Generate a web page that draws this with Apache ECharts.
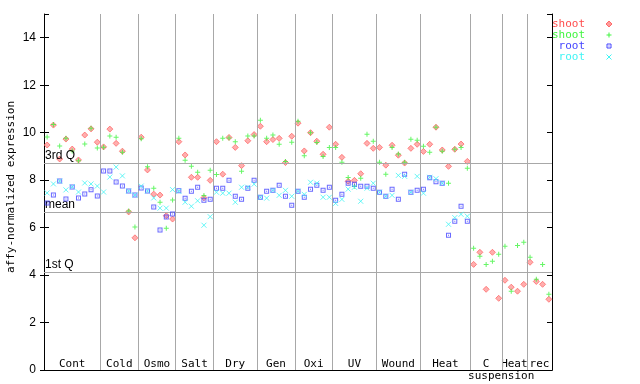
<!DOCTYPE html>
<html><head><meta charset="utf-8">
<script src="https://cdn.jsdelivr.net/npm/echarts@6/dist/echarts.min.js"></script>
<style>html,body{margin:0;padding:0;background:#fff}#c{width:640px;height:384px}</style>
</head><body><div id="c"></div>
<script>
// ---- data ----
const groupNames = ['Cont','Cold','Osmo','Salt','Dry','Gen','Oxi','UV','Wound','Heat','C','Heat','rec'];
const groupSubNames = ['','','','','','','','','','','suspension','',''];
const groupSizes = [9,6,6,6,7,6,6,7,7,8,5,4,4];
const seriesNames = ['shoot','shoot','root','root'];
const shootA = [
  9.48,10.32,8.89,9.73,9.31,8.85,9.90,10.16,9.60,
  9.40,10.15,9.55,9.22,6.66,5.57,
  9.81,8.43,7.41,7.37,6.50,6.36,
  9.62,9.06,8.12,8.12,7.26,7.99,
  9.62,8.25,9.80,9.38,8.61,9.66,9.92,
  10.27,9.62,9.71,9.76,8.74,9.85,
  10.40,9.23,10.00,9.64,9.09,10.23,
  9.51,8.96,7.95,7.99,8.27,9.55,9.34,
  9.38,8.63,9.47,9.05,8.72,9.34,9.51,
  9.21,9.51,10.23,9.27,8.58,9.30,9.52,8.79,
  4.45,4.96,3.40,4.96,3.02,
  3.78,3.49,3.32,3.61,
  4.54,3.73,3.61,2.98
];
const shootB = [
  9.82,10.34,9.44,9.77,9.23,8.82,9.52,10.19,9.35,
  9.39,9.86,9.81,9.18,6.70,6.03,
  9.74,8.56,7.66,7.07,5.97,7.16,
  9.76,8.84,8.58,8.33,7.35,8.42,
  8.24,9.76,9.78,9.62,8.37,9.86,9.86,
  10.52,9.76,9.90,9.51,8.79,9.60,
  10.48,9.03,10.00,9.59,9.00,9.38,
  9.38,8.75,8.11,7.74,8.08,9.93,9.64,
  8.75,8.25,9.38,9.10,8.75,9.72,9.68,
  9.43,9.17,10.23,9.22,7.87,9.30,9.38,8.50,
  5.13,4.79,4.45,4.58,4.88,
  5.21,3.32,5.25,5.38,
  4.75,3.82,4.45,3.19
];
const rootA = [
  7.04,7.37,7.96,7.21,7.71,7.25,7.42,7.59,7.33,
  8.39,8.39,7.92,7.75,7.54,7.37,
  7.67,7.54,6.87,5.90,6.45,6.57,
  7.55,7.24,7.53,7.70,7.15,7.19,
  7.66,7.66,7.99,7.32,7.19,7.66,7.99,
  7.28,7.53,7.57,7.78,7.32,6.94,
  7.53,7.28,7.62,7.78,7.57,7.70,
  7.15,7.40,7.87,7.83,7.74,7.74,7.66,
  7.49,7.32,7.62,7.19,8.25,7.49,7.57,
  7.62,8.10,7.93,7.87,5.68,6.27,6.90,6.27
];
const rootB = [
  7.46,7.84,7.96,7.59,7.72,7.50,7.88,7.84,7.75,
  7.50,8.13,8.55,8.18,7.54,7.37,
  7.75,7.54,7.25,6.82,6.82,7.60,
  7.53,7.07,6.90,7.13,6.10,6.46,
  7.49,7.45,7.45,7.07,7.70,7.70,7.83,
  7.28,7.24,7.57,7.36,7.57,7.32,
  7.53,7.40,7.91,7.87,7.28,7.28,
  7.02,7.19,7.62,7.70,7.11,7.66,7.87,
  7.49,7.32,7.36,8.20,8.16,7.49,8.16,
  7.45,8.12,8.06,7.87,6.14,6.42,6.56,6.48
];
const refLabels = ['3rd Q','mean','1st Q'];
const refValues = [8.71, 6.64, 4.10];
const yMin = 0, yMax = 15, yStep = 2;

// ---- styling ----
const FONT = '11px "DejaVu Sans Mono", monospace';
const COLORS = ['#ff4c4c','#40f440','#4444ff','#40f4f4'];
const SYMS = [
  'path://M3,0L6,3L3,6L0,3Z',
  'path://M2,0H3V2H5V3H3V5H2V3H0V2H2Z',
  'path://M0,0H5V5H0Z M1,1V4H4V1Z M2,2H3V3H2Z',
  'path://M0,0L5,5M5,0L0,5'
];
const nSamples = groupSizes.reduce((a,b)=>a+b,0);
const bounds = [];
let acc = 0;
groupSizes.forEach(s => { acc += s; bounds.push(acc); });
bounds.pop();

function pts(arr){ return arr.map((v,i)=>[i+0.5, v]).filter(p=>p[1]!=null); }

const itemStyles = [
  {color:'#ff9a9a', borderColor:'#ff5050', borderWidth:0.8},
  {color:COLORS[1]},
  {color:COLORS[2]},
  {color:'none', borderColor:COLORS[3], borderWidth:1}
];
const symSizes = [6,5,5,5];
const dataSets = [shootA, shootB, rootA, rootB];

const series = [{
  type:'scatter', data:[], silent:true, z:1,
  markLine:{
    silent:true, symbol:'none', animation:false,
    lineStyle:{color:'#a8a8a8', width:1, type:'solid'},
    label:{show:false},
    data: bounds.map(b=>({xAxis:b}))
  }
},{
  type:'scatter', data:[], silent:true, z:1,
  markLine:{
    silent:true, symbol:'none', animation:false,
    lineStyle:{color:'#a8a8a8', width:1, type:'solid'},
    label:{show:true, position:'insideStartTop', formatter:'{b}', color:'#000', font:FONT, distance:[1,2]},
    data: refValues.map((v,i)=>({yAxis:v, name:refLabels[i]}))
  }
}];
dataSets.forEach((d,k)=>{
  series.push({
    type:'scatter', name:seriesNames[k], data:pts(d), symbol:SYMS[k], symbolSize:symSizes[k],
    itemStyle:itemStyles[k], z:3+k, animation:false
  });
});

const chart = echarts.init(document.getElementById('c'));
chart.setOption({
  animation:false,
  backgroundColor:'#fff',
  grid:{left:44, right:88, top:14, bottom:14},
  xAxis:[
    {type:'value', min:0, max:nSamples, position:'bottom',
     axisLine:{show:true, onZero:false, lineStyle:{color:'#000', width:1}},
     axisTick:{show:false}, axisLabel:{show:false}, splitLine:{show:false}},
    {type:'value', min:0, max:nSamples, position:'top',
     axisLine:{show:true, lineStyle:{color:'#000', width:1}},
     axisTick:{show:false}, axisLabel:{show:false}, splitLine:{show:false}}
  ],
  yAxis:[
    {type:'value', min:yMin, max:yMax, interval:yStep, position:'left',
     axisLine:{show:true, lineStyle:{color:'#000', width:1}},
     axisTick:{show:true, length:4, lineStyle:{color:'#000'}},
     axisLabel:{show:true, margin:8, color:'#000', font:FONT, showMaxLabel:false},
     splitLine:{show:false}},
    {type:'value', min:yMin, max:yMax, interval:yStep, position:'left',
     axisLine:{show:false},
     axisTick:{show:true, inside:true, length:5, lineStyle:{color:'#000'}},
     axisLabel:{show:false}, splitLine:{show:false}},
    {type:'value', min:yMin, max:yMax, interval:yStep, position:'right',
     axisLine:{show:true, lineStyle:{color:'#000', width:1}},
     axisTick:{show:true, inside:true, length:5, lineStyle:{color:'#000'}},
     axisLabel:{show:false}, splitLine:{show:false}}
  ],
  series: series
});

// group labels placed through the axis scale
const graphics = [];
let start = 0;
groupSizes.forEach((s,g)=>{
  const c = start + s/2; start += s;
  const p = chart.convertToPixel({xAxisIndex:0, yAxisIndex:0}, [c, 0]);
  graphics.push({type:'text', x:p[0], y:p[1]-6, silent:true,
    style:{text:groupNames[g], font:FONT, fill:'#000', textAlign:'center', textVerticalAlign:'middle'}});
  if (groupSubNames[g]) {
    graphics.push({type:'text', x:p[0]+15, y:p[1]+6, silent:true,
      style:{text:groupSubNames[g], font:FONT, fill:'#000', textAlign:'center', textVerticalAlign:'middle'}});
  }
});
// y axis title
graphics.push({type:'text', x:11.5, y:187, rotation:Math.PI/2, silent:true,
  style:{text:'affy-normalized expression', font:FONT, fill:'#000', textAlign:'center', textVerticalAlign:'middle'}});
// legend
const LX = 609;
seriesNames.forEach((n,k)=>{
  const y = 24 + k*11;
  graphics.push({type:'text', x:585, y:y, silent:true,
    style:{text:n, font:FONT, fill:COLORS[k], textAlign:'right', textVerticalAlign:'middle'}});
  if (k===0) {
    graphics.push({type:'polygon', silent:true,
      shape:{points:[[LX,y-3],[LX+3,y],[LX,y+3],[LX-3,y]]},
      style:{fill:'#ff9a9a', stroke:'#ff5050', lineWidth:0.8}});
  } else if (k===1) {
    graphics.push({type:'rect', silent:true, shape:{x:LX-2.5, y:y-0.5, width:5, height:1}, style:{fill:COLORS[1]}});
    graphics.push({type:'rect', silent:true, shape:{x:LX-0.5, y:y-2.5, width:1, height:5}, style:{fill:COLORS[1]}});
  } else if (k===2) {
    graphics.push({type:'rect', silent:true, shape:{x:LX-2, y:y-2, width:4, height:4}, style:{fill:'none', stroke:COLORS[2], lineWidth:1}});
    graphics.push({type:'rect', silent:true, shape:{x:LX-0.5, y:y-0.5, width:1, height:1}, style:{fill:COLORS[2]}});
  } else {
    graphics.push({type:'line', silent:true, shape:{x1:LX-2.5, y1:y-2.5, x2:LX+2.5, y2:y+2.5}, style:{stroke:COLORS[3], lineWidth:1}});
    graphics.push({type:'line', silent:true, shape:{x1:LX+2.5, y1:y-2.5, x2:LX-2.5, y2:y+2.5}, style:{stroke:COLORS[3], lineWidth:1}});
  }
});
chart.setOption({graphic:graphics});
</script>
</body></html>
